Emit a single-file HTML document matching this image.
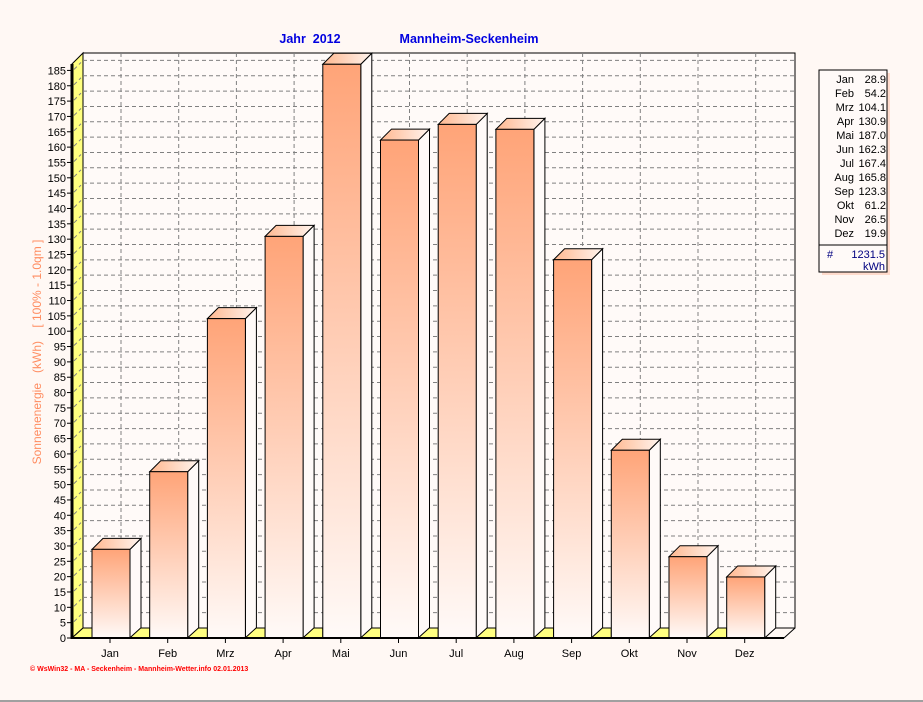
<!DOCTYPE html><html><head><style>body{margin:0;background:#fff8f4}svg{display:block;font-family:"Liberation Sans",sans-serif}</style></head><body>
<svg width="923" height="702" viewBox="0 0 923 702">
<defs><linearGradient id="g" x1="0" y1="0" x2="0" y2="1"><stop offset="0" stop-color="#ffa478"/><stop offset="1" stop-color="#fffaf8"/></linearGradient>
<linearGradient id="t" x1="0" y1="0" x2="1" y2="0"><stop offset="0" stop-color="#ffb890"/><stop offset="1" stop-color="#fff4ee"/></linearGradient></defs>
<rect width="923" height="702" fill="#fff8f4"/>
<line x1="0" y1="701" x2="923" y2="701" stroke="#a0a0a0" stroke-width="2"/>
<text x="310" y="43" fill="#0000e0" font-weight="bold" font-size="12.5" text-anchor="middle" xml:space="preserve">Jahr  2012</text>
<text x="469" y="43" fill="#0000e0" font-weight="bold" font-size="12.5" text-anchor="middle">Mannheim-Seckenheim</text>
<polygon points="72,64 83,53 83,628 72,638" fill="#ffff80" stroke="#000"/>
<line x1="72" y1="64" x2="72" y2="639" stroke="#000" stroke-width="3"/>
<rect x="83" y="53" width="712" height="575" fill="#fffaf8" stroke="#000"/>
<g id="grid" stroke="#808080" stroke-dasharray="4,3"></g>
<g id="bars"></g>
<line x1="72" y1="638" x2="784" y2="638" stroke="#000" stroke-width="2"/>
<line x1="784" y1="638" x2="795" y2="628" stroke="#000"/>
<g id="ax" font-size="11" fill="#000"></g>
<text transform="translate(41,352) rotate(-90)" fill="#ff8c60" font-size="12" text-anchor="middle" xml:space="preserve">Sonnenenergie   (kWh)    [ 100% - 1.0qm ]</text>
<text x="30" y="671" fill="#ff0000" font-size="7" font-weight="bold">© WsWin32  -  MA - Seckenheim  -  Mannheim-Wetter.info  02.01.2013</text>
<rect x="822" y="73" width="68" height="202" fill="#ffc8b0" opacity="0.6"/>
<rect x="819" y="70" width="68" height="202" fill="#fffaf8" stroke="#000"/>
<line x1="819" y1="245" x2="887" y2="245" stroke="#000"/>
<g id="leg" font-size="11" text-anchor="end"></g>
<text x="827" y="258" fill="#000080" font-size="11">#</text>
<text x="885" y="258" fill="#000080" font-size="11" text-anchor="end">1231.5</text>
<text x="885" y="270" fill="#000080" font-size="11" text-anchor="end">kWh</text>
</svg>
<script>
const ns="http://www.w3.org/2000/svg",Y=v=>638-v*3.068;
function el(p,t,a,txt){const e=document.createElementNS(ns,t);for(const k in a)e.setAttribute(k,a[k]);if(txt!=null)e.textContent=txt;document.getElementById(p).appendChild(e);}
for(let v=5;v<=185;v+=5){const y=Y(v)-10;el('grid','line',{x1:83,y1:y,x2:795,y2:y});el('grid','line',{x1:74,y1:y+9,x2:81,y2:y+2});}
for(let k=0;k<12;k++){const x=121+57.7*k;el('grid','line',{x1:x,y1:53,x2:x,y2:628});}
for(let v=0;v<=185;v+=5){const y=Y(v);el('ax','text',{x:66,y:y+4,'text-anchor':'end'},v);el('ax','line',{x1:67,y1:y,x2:72,y2:y,stroke:'#000'});}
const m=["Jan","Feb","Mrz","Apr","Mai","Jun","Jul","Aug","Sep","Okt","Nov","Dez"],d=[28.9,54.2,104.1,130.9,187.0,162.3,167.4,165.8,123.3,61.2,26.5,19.9];
for(let k=0;k<12;k++){const L=92+57.7*k,R=L+38,T=Y(d[k]);
el('bars','polygon',{points:`${L-20},638 ${L-9},628 ${L},628 ${L},638`,fill:'#ffff80',stroke:'#000'});
el('bars','polygon',{points:`${R},${T} ${R+11},${T-11} ${R+11},628 ${R},638`,fill:'#fffaf8',stroke:'#000'});
el('bars','polygon',{points:`${L},${T} ${L+11},${T-11} ${R+11},${T-11} ${R},${T}`,fill:'url(#t)',stroke:'#000'});
el('bars','rect',{x:L,y:T,width:38,height:638-T,fill:'url(#g)',stroke:'#000'});
el('ax','text',{x:L+18,y:657,'text-anchor':'middle'},m[k]);
el('ax','line',{x1:L+18,y1:638,x2:L+18,y2:643,stroke:'#000'});
el('leg','text',{x:854,y:83+14*k},m[k]);el('leg','text',{x:886,y:83+14*k},d[k].toFixed(1));}
</script></body></html>
